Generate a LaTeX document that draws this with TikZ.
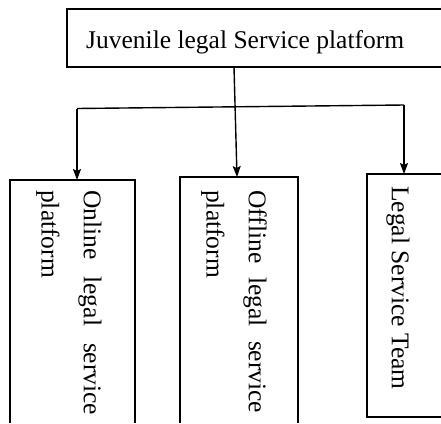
\documentclass[tikz,border=0pt]{standalone}
\usepackage{fontspec}
\setmainfont{Liberation Serif}
\usetikzlibrary{arrows.meta}
\begin{document}
\begin{tikzpicture}[x=1pt,y=-1pt,
  box/.style={rectangle,inner sep=0pt,outer sep=0pt,anchor=north west},
  edge/.style={line width=1.3pt},
  vtext/.style={rotate=-90,anchor=west,inner sep=0pt,font=\fontsize{25.5}{30}\selectfont},
  conn/.style={line width=1.4pt},
  arr/.style={conn,-{Stealth[length=11pt,width=8pt,inset=2pt]}}]
\useasboundingbox (0,0) rectangle (441,423);
\node[box,minimum width=374pt,minimum height=58pt] (top) at (67,9) {};
\node[box,minimum width=125pt,minimum height=243pt] (b1) at (10,180) {};
\node[box,minimum width=118pt,minimum height=246pt] (b2) at (180,177) {};
\node[box,minimum width=74pt,minimum height=243pt] (b3) at (367,174) {};
\draw[edge] (top.north east) -- (top.north west) -- (top.south west) -- (top.south east);
\draw[edge] (b1.south west) -- (b1.north west) -- (b1.north east) -- (b1.south east);
\draw[edge] (b2.south west) -- (b2.north west) -- (b2.north east) -- (b2.south east);
\draw[edge] (b3.north east) -- (b3.north west) -- (b3.south west) -- (b3.south east);
\node[anchor=base west,inner sep=0pt,font=\fontsize{25.5}{30}\selectfont] (toptext) at (86,48) {Juvenile legal Service platform};
\node[vtext] (t1a) at (90,190) {\makebox[225pt][s]{Online legal service}};
\node[vtext] (t1b) at (48,190) {platform};
\node[vtext] (t2a) at (255,190) {\makebox[223pt][s]{Offline legal service}};
\node[vtext] (t2b) at (213,190) {platform};
\node[vtext] (t3) at (398,186) {Legal Service Team};
\coordinate (jl) at (77,108.5);
\coordinate (jr) at (404,105);
\coordinate (ts) at (234,67);
\draw[arr] (ts) -- (b2.north -| 237,0);
\draw[conn] (jl) -- (jr);
\draw[arr] (jl) -- (b1.north -| jl);
\draw[arr] (jr) -- (b3.north -| jr);
\end{tikzpicture}
\end{document}
